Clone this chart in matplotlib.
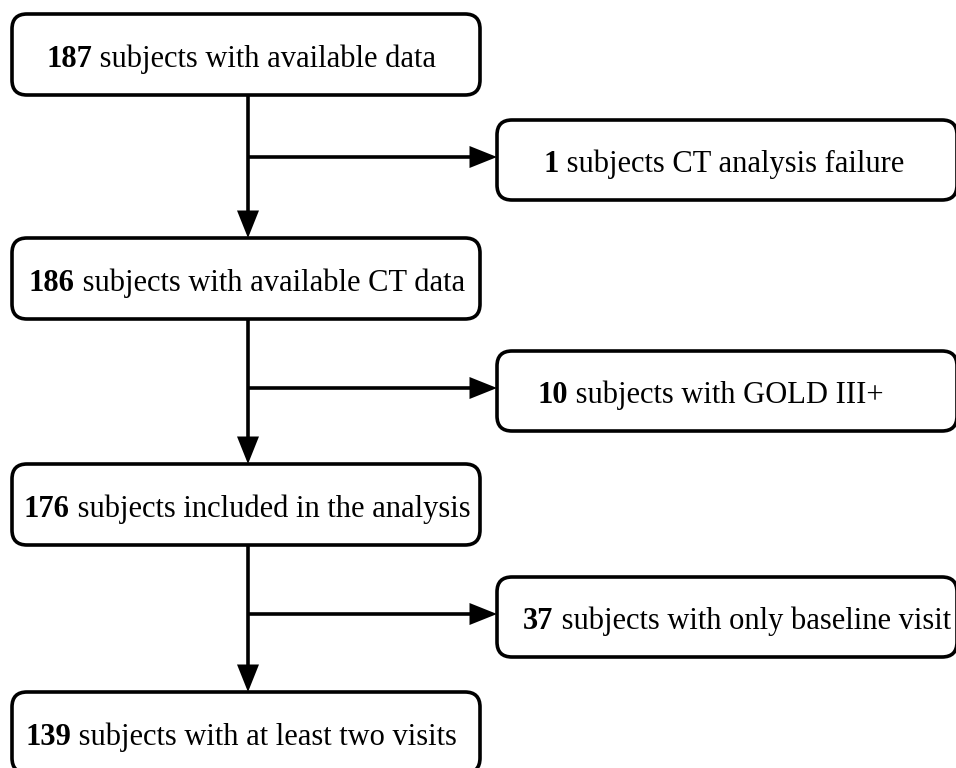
import matplotlib.pyplot as plt
from matplotlib.patches import FancyBboxPatch, FancyArrowPatch

# flowchart content
main_counts = [187, 186, 176, 139]
main_labels = ["subjects with available data",
               "subjects with available CT data",
               "subjects included in the analysis",
               "subjects with at least two visits"]
excl_counts = [1, 10, 37]
excl_labels = ["subjects CT analysis failure",
               "subjects with GOLD III+",
               "subjects with only baseline visit"]

# layout in pixels (origin top-left)
W, H = 956, 768
main_x0, main_x1 = 12, 480
main_tops = [14, 238, 464, 692]
main_h = 81
main_text_cx = [241, 247, 247, 241]
excl_x0, excl_x1 = 497, 957
excl_tops = [120, 351, 577]
excl_h = 80
excl_text_cx = [724, 711, 737]
stem_x = 248
lw = 2.6
fs = 22
font = "Liberation Serif"

fig = plt.figure(figsize=(W / 100, H / 100), dpi=100)
ax = fig.add_axes([0, 0, 1, 1])
ax.set_xlim(0, W)
ax.set_ylim(H, 0)
ax.axis("off")
renderer = fig.canvas.get_renderer()


def box(x0, x1, top, h):
    p = FancyBboxPatch((x0, top), x1 - x0, h,
                       boxstyle="round,pad=0,rounding_size=15",
                       fc="white", ec="black", lw=lw, zorder=2)
    ax.add_patch(p)


def label(cx, base, num, rest):
    t1 = ax.text(0, base, str(num), fontsize=fs, fontweight="bold",
                 family=font, va="baseline", ha="left", zorder=3)
    t2 = ax.text(0, base, " " + rest, fontsize=fs, family=font,
                 va="baseline", ha="left", zorder=3)
    inv = ax.transData.inverted()
    b1 = t1.get_window_extent(renderer)
    b2 = t2.get_window_extent(renderer)
    w1 = inv.transform((b1.x1, 0))[0] - inv.transform((b1.x0, 0))[0]
    w2 = inv.transform((b2.x1, 0))[0] - inv.transform((b2.x0, 0))[0]
    left = cx - (w1 + w2) / 2
    t1.set_x(left)
    t2.set_x(left + w1)


def arrow(p0, p1):
    a = FancyArrowPatch(p0, p1, arrowstyle="-|>,head_length=1.5,head_width=0.6",
                        mutation_scale=10, lw=lw, color="black",
                        joinstyle="miter", capstyle="butt",
                        shrinkA=0, shrinkB=0, zorder=1)
    ax.add_patch(a)


for i, top in enumerate(main_tops):
    box(main_x0, main_x1, top, main_h)
    label(main_text_cx[i], top + 53, main_counts[i], main_labels[i])

for i, top in enumerate(excl_tops):
    box(excl_x0, excl_x1, top, excl_h)
    label(excl_text_cx[i], top + 52, excl_counts[i], excl_labels[i])
    # vertical arrow to next main box
    arrow((stem_x, main_tops[i] + main_h), (stem_x, main_tops[i + 1]))
    # side arrow to exclusion box
    ymid = top + excl_h / 2 - 3
    arrow((stem_x, ymid), (excl_x0, ymid))

fig.savefig("out.png", dpi=100, facecolor="white")
